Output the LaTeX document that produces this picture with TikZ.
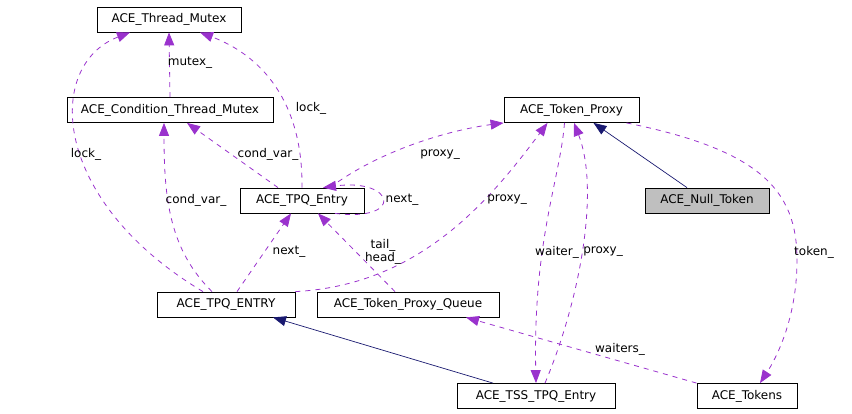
\documentclass[tikz,border=0pt]{standalone}
\usepackage{fontspec}
\setmainfont{DejaVu Sans}
\usetikzlibrary{arrows.meta}

\definecolor{depcol}{HTML}{9A32CD}
\definecolor{inhcol}{HTML}{191970}
\definecolor{grayfill}{HTML}{BFBFBF}

\begin{document}
\begin{tikzpicture}[x=1pt,y=-1pt,
    cls/.style={draw,line width=0.8pt,minimum height=25pt,inner sep=0pt,font=\fontsize{12}{14}\selectfont},
    dep/.style={depcol,line width=0.8pt,dash pattern=on 5pt off 5pt,-{Triangle[length=13pt,width=10pt]}},
    inh/.style={inhcol,line width=0.7pt,-{Triangle[length=13pt,width=10pt]}},
    lbl/.style={font=\fontsize{12}{13}\selectfont,inner sep=0pt,align=center}]
            \useasboundingbox (0,0) rectangle (852,413);
            % classes
            \node[cls,minimum width=144pt] (tmutex) at (169,19.5) {ACE\_Thread\_Mutex};
            \node[cls,minimum width=206pt] (cmutex) at (170,110) {ACE\_Condition\_Thread\_Mutex};
            \node[cls,minimum width=124pt] (tpqentry) at (302,200.5) {ACE\_TPQ\_Entry};
            \node[cls,minimum width=135pt] (proxy) at (571.5,110) {ACE\_Token\_Proxy};
            \node[cls,fill=grayfill,minimum width=124pt] (null) at (707,200.5) {ACE\_Null\_Token};
            \node[cls,minimum width=138pt] (tpqbase) at (226,304.5) {ACE\_TPQ\_ENTRY};
            \node[cls,minimum width=182pt] (queue) at (408,304.5) {ACE\_Token\_Proxy\_Queue};
            \node[cls,minimum width=158pt] (tss) at (536,396) {ACE\_TSS\_TPQ\_Entry};
            \node[cls,minimum width=100pt] (tokens) at (747,396) {ACE\_Tokens};
            \coordinate (tokbend) at (797,260);
            % usage
            \draw[dep] (cmutex.north) -- (tmutex.south);
            \draw[dep] ([xshift=-23pt]tpqbase.north) .. controls (50,200) and (45,65) .. ([xshift=-39pt]tmutex.south);
            \draw[dep] (tpqentry.north) .. controls (303,100) and (260,55) .. ([xshift=31pt]tmutex.south);
            \draw[dep] ([xshift=-24pt]tpqentry.north) -- ([xshift=17pt]cmutex.south);
            \draw[dep] ([xshift=-14pt]tpqbase.north) .. controls (170,250) and (164,200) .. ([xshift=-6pt]cmutex.south);
            \draw[dep] ([xshift=11pt]tpqbase.north) -- ([xshift=-11pt]tpqentry.south);
            \draw[dep] ([xshift=33pt]tpqentry.south) .. controls (405,222) and (395,178) .. ([xshift=21pt]tpqentry.north);
            \draw[dep] ([xshift=-13pt]queue.north) -- ([xshift=16pt]tpqentry.south);
            \draw[dep] ([xshift=28pt]tpqentry.north) .. controls (380,150) and (450,130) .. (proxy.south west);
            \draw[dep] (tpqbase.north east) .. controls (420,285) and (490,200) .. ([xshift=-24pt]proxy.south);
            \draw[dep] ([xshift=9pt]tss.north) .. controls (580,300) and (600,190) .. ([xshift=2.5pt]proxy.south);
            \draw[dep] ([xshift=-7pt]proxy.south) .. controls (560,180) and (533,240) .. (tss.north);
            \draw[dep] ([xshift=55pt]proxy.south) .. controls (760,150) and (797,190) .. (tokbend) .. controls (797,320) and (775,360) .. ([xshift=13pt]tokens.north);
            \draw[dep] (tokens.north west) -- ([xshift=58pt]queue.south);
            % inheritance
            \draw[inh] ([xshift=-20pt]null.north) -- ([xshift=22pt]proxy.south);
            \draw[inh] ([xshift=-43pt]tss.north) -- ([xshift=47pt]tpqbase.south);
            % labels
            \node[lbl] (lmutex) at (190,63) {mutex\_};
            \node[lbl] (llockl) at (86,154) {lock\_};
            \node[lbl] (llockr) at (311,108) {lock\_};
            \node[lbl] (lcondr) at (268,154) {cond\_var\_};
            \node[lbl] (lcondl) at (196,200) {cond\_var\_};
            \node[lbl] (lnexts) at (402,200) {next\_};
            \node[lbl] (lnextb) at (289,252) {next\_};
            \node[lbl] (lhead) at (383,252) {tail\_\\head\_};
            \node[lbl] (lproxyt) at (440,155) {proxy\_};
            \node[lbl] (lproxym) at (507,200) {proxy\_};
            \node[lbl] (lwaiter) at (557,252) {waiter\_};
            \node[lbl] (lproxyr) at (603,252) {proxy\_};
            \node[lbl] (ltoken) at (814,252) {token\_};
            \node[lbl] (lwaiters) at (620,349) {waiters\_};
        \end{tikzpicture}
\end{document}
